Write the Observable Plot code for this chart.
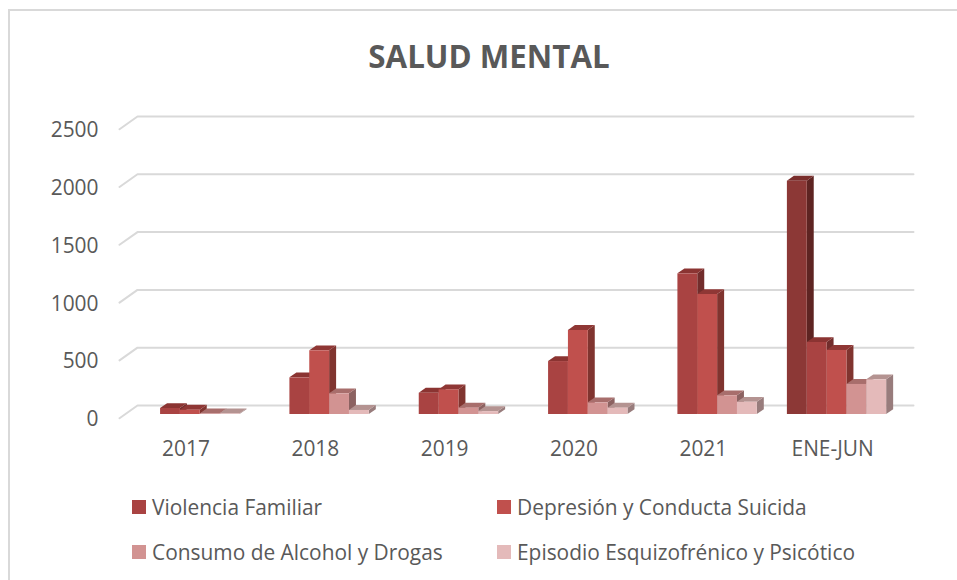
<!DOCTYPE html>
<html>
<head>
<meta charset="utf-8">
<script src="https://cdn.jsdelivr.net/npm/d3@7"></script>
<script src="https://cdn.jsdelivr.net/npm/@observablehq/plot@0.6"></script>
<style>
  html, body { margin: 0; padding: 0; background: #fff; }
  #chart { position: relative; width: 957px; height: 580px; overflow: hidden; font-family: "Open Sans", sans-serif; color: #595959; }
  #frame { position: absolute; left: 8px; top: 9px; right: 0; bottom: 0; border-left: 2px solid #d9d9d9; border-top: 2px solid #d9d9d9; }
  #title { position: absolute; left: 0; width: 978px; top: 33px; text-align: center; font-size: 31.3px; font-weight: 700; line-height: 46px; }
  #plot { position: absolute; left: 0; top: 100px; }
  #plot svg { display: block; }
  .key { position: absolute; display: flex; align-items: center; font-size: 20.9px; line-height: 26px; white-space: nowrap; }
  .key i { display: inline-block; width: 14px; height: 14px; margin-right: 6px; }
</style>
</head>
<body>
<div id="chart">
  <div id="frame"></div>
  <div id="title">SALUD MENTAL</div>
  <div id="plot"></div>
  <div id="legend"></div>
</div>
<script>
const categories = ["2017", "2018", "2019", "2020", "2021", "ENE-JUN"];
const serieSinNombre = [null, null, null, null, null, 2018];
const violenciaFamiliar = [52, 317, 184, 458, 1217, 623];
const depresionConducta = [37, 551, 213, 727, 1038, 554];
const consumoAlcohol = [5, 179, 55, 101, 162, 260];
const episodioEsquizo = [5, 35, 25, 55, 106, 300];
const yTicks = [0, 500, 1000, 1500, 2000, 2500];

const seriesNames = ["", "Violencia Familiar", "Depresión y Conducta Suicida", "Consumo de Alcohol y Drogas", "Episodio Esquizofrénico y Psicótico"];
const seriesValues = [serieSinNombre, violenciaFamiliar, depresionConducta, consumoAlcohol, episodioEsquizo];
const frontColors = ["#8c3836", "#a94342", "#c0504d", "#d29392", "#e4baba"];
const sideColors  = ["#5e2422", "#722d2c", "#80342f", "#8c6261", "#987c7c"];
const topColors   = ["#7a2e2c", "#8b3432", "#8f3735", "#a86e6c", "#b49391"];

// Geometry in data units: one x unit is a category band, one y unit is a case.
const slot = 0.1535;        // bar width
const groupStart = 0.11;    // left gap inside a band
const depthX = 0.054;       // oblique depth of a bar
const depthY = 42;
const wallX = 0.085;        // back wall offset from the bar plane
const wallY = 78;
const floorX = -0.054;      // front edge of the floor
const floorY = -32;

const bars = seriesValues.flatMap((vals, s) => vals.map((v, i) => v == null ? null : ({
  s, v,
  x1: i + groupStart + s * slot,
  x2: i + groupStart + (s + 1) * slot
}))).filter(Boolean);

const side = bars.flatMap((b, k) => [
  {k, x: b.x2, y1: 0, y2: b.v, fill: sideColors[b.s]},
  {k, x: b.x2 + depthX, y1: depthY, y2: b.v + depthY, fill: sideColors[b.s]}
]);
const top_ = bars.flatMap((b, k) => [
  {k, x: b.x1, y1: b.v, y2: b.v, fill: topColors[b.s]},
  {k, x: b.x1 + depthX, y1: b.v, y2: b.v + depthY, fill: topColors[b.s]},
  {k, x: b.x2, y1: b.v, y2: b.v + depthY, fill: topColors[b.s]},
  {k, x: b.x2 + depthX, y1: b.v + depthY, y2: b.v + depthY, fill: topColors[b.s]}
]);
const grid = yTicks.flatMap((t) => [
  {t, x: floorX, y: t + floorY},
  {t, x: wallX, y: t + wallY},
  {t, x: categories.length + wallX, y: t + wallY}
]);

const chart = Plot.plot({
  width: 957,
  height: 360,
  marginLeft: 100,
  marginTop: 20,
  marginBottom: 46,
  marginRight: 40,
  style: {fontFamily: '"Open Sans", sans-serif', fontSize: "20.9px", color: "#595959", background: "transparent", overflow: "visible"},
  x: {domain: [0, categories.length], range: [126, 902], axis: null},
  y: {domain: [0, 2500], range: [314, 25], axis: null},
  marks: [
    Plot.line(grid, {x: "x", y: "y", z: "t", stroke: "#d9d9d9", strokeWidth: 2}),
    Plot.areaY(side, {x: "x", y1: "y1", y2: "y2", z: "k", fill: "fill"}),
    Plot.areaY(top_, {x: "x", y1: "y1", y2: "y2", z: "k", fill: "fill"}),
    Plot.rect(bars, {x1: "x1", x2: "x2", y1: 0, y2: "v", fill: (d) => frontColors[d.s]}),
    Plot.axisY({ticks: yTicks, tickSize: 0, tickPadding: 2, dy: 5, label: null, tickFormat: d3.format("d"), fill: "#595959", fontSize: 20.9}),
    Plot.text(categories, {x: (d, i) => i + 0.46, y: 0, dy: 35, text: (d) => d, fill: "#595959", fontSize: 20.9, textAnchor: "middle"})
  ]
});
document.getElementById("plot").append(chart);

const legendPos = [[132, 507], [497, 507], [132, 552], [497, 552]];
const legendEl = document.getElementById("legend");
[1, 2, 3, 4].forEach((s, n) => {
  const el = document.createElement("div");
  el.className = "key";
  el.style.left = legendPos[n][0] + "px";
  el.style.top = (legendPos[n][1] - 13) + "px";
  const sw = document.createElement("i");
  sw.style.background = frontColors[s];
  el.append(sw, document.createTextNode(seriesNames[s]));
  legendEl.append(el);
});
</script>
</body>
</html>
